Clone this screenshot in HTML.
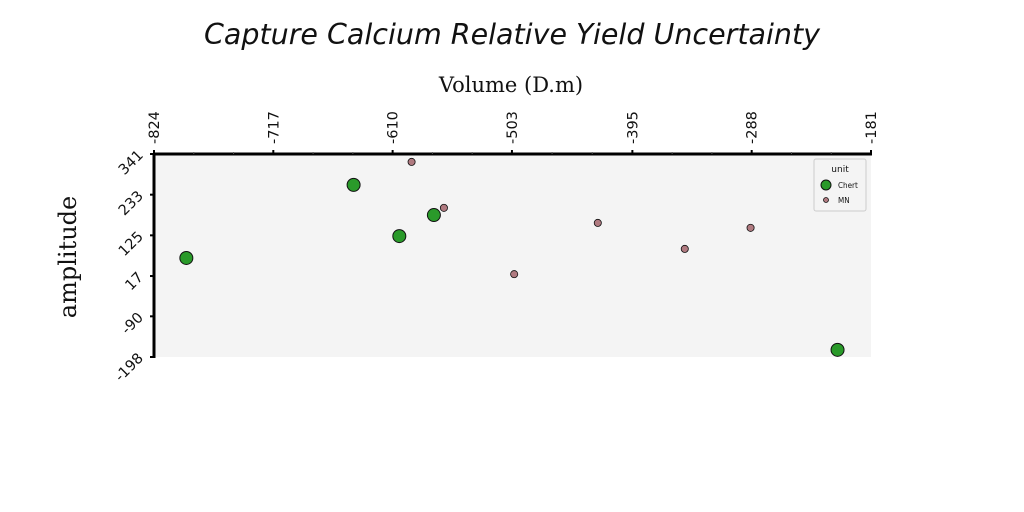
<!DOCTYPE html>
<html><head><meta charset="utf-8"><style>
body{margin:0;background:#fff;width:1024px;height:512px;overflow:hidden}
svg{display:block}
</style></head><body>
<svg id="chart" width="1024" height="512" xmlns="http://www.w3.org/2000/svg">
<text x="512" y="44" text-anchor="middle" font-family="'DejaVu Sans',sans-serif" font-style="italic" font-size="28.5" fill="#111">Capture Calcium Relative Yield Uncertainty</text>
<text x="511" y="92" text-anchor="middle" font-family="'DejaVu Serif',serif" font-size="21" fill="#111">Volume (D.m)</text>
<text transform="translate(76,257) rotate(-90)" text-anchor="middle" font-family="'DejaVu Serif',serif" font-size="24" fill="#111">amplitude</text>
<rect x="154" y="154" width="717" height="203" fill="#f4f4f4"/>
<g id="axes"></g>
<g id="marks"></g>
<g>
<rect x="814" y="159" width="52" height="52" rx="2" fill="#f4f4f4" stroke="#ccc" stroke-width="1"/>
<text x="840" y="172" text-anchor="middle" font-family="'DejaVu Sans',sans-serif" font-size="9" fill="#111">unit</text>
<circle cx="826" cy="185" r="5" fill="#2a9a2a" stroke="#111" stroke-width="1"/>
<text x="838" y="188" font-family="'DejaVu Sans Condensed','DejaVu Sans',sans-serif" font-size="8" fill="#111">Chert</text>
<circle cx="826" cy="200" r="2.5" fill="#b07a80" stroke="#111" stroke-width="0.8"/>
<text x="838" y="203" font-family="'DejaVu Sans Condensed','DejaVu Sans',sans-serif" font-size="8" fill="#111">MN</text>
</g>
</svg>
<script>
const xTicks = [-824, -717, -610, -503, -395, -288, -181];
const yTicks = [341, 233, 125, 17, -90, -198];
const chertX = [-795, -645, -604, -573, -211];
const chertY = [65, 259, 123, 179, -179];
const mnX = [-593, -564, -501, -426, -348, -289];
const mnY = [320, 198, 22, 158, 89, 145];

const NS = 'http://www.w3.org/2000/svg';
const X0 = 154, X1 = 871, Y0 = 154, Y1 = 357;
const xMin = -824, xMax = -181, yMin = -198, yMax = 341;
const sx = v => X0 + (v - xMin) / (xMax - xMin) * (X1 - X0);
const sy = v => Y1 - (v - yMin) / (yMax - yMin) * (Y1 - Y0);
function mk(tag, attrs, parent) {
  const e = document.createElementNS(NS, tag);
  for (const k in attrs) e.setAttribute(k, attrs[k]);
  parent.appendChild(e);
  return e;
}
const axes = document.getElementById('axes');
const marks = document.getElementById('marks');
const xl = mk('line', {x1: X0, y1: Y0, x2: X1 + 1, y2: Y0, stroke: '#000', 'stroke-width': 3}, axes);


const yl = mk('line', {x1: X0, y1: Y0, x2: X0, y2: Y1 + 1, stroke: '#000', 'stroke-width': 3}, axes);


xTicks.forEach((t, i) => {
  const x = sx(t);
  mk('line', {x1: x, y1: Y0, x2: x, y2: Y0 - 4, stroke: '#000', 'stroke-width': 2}, axes);
  if (i < xTicks.length - 1) {
    for (let k = 1; k < 3; k++) {
      const xm = x + (sx(xTicks[i + 1]) - x) * k / 3;
      mk('line', {x1: xm, y1: Y0, x2: xm, y2: Y0 - 2, stroke: '#555', 'stroke-width': 1}, axes);
    }
  }
  const tx = mk('text', {transform: `translate(${x + 5},${Y0 - 10}) rotate(-90)`, 'font-family': "'DejaVu Sans',sans-serif", 'font-size': 14.5, fill: '#111'}, axes);
  tx.textContent = t;
  
  
});
yTicks.forEach((t, i) => {
  const y = sy(t);
  mk('line', {x1: X0, y1: y, x2: X0 - 4, y2: y, stroke: '#000', 'stroke-width': 2}, axes);
  const tx = mk('text', {transform: `translate(${X0 - 10},${y + 2}) rotate(-45)`, 'text-anchor': 'end', 'font-family': "'DejaVu Sans',sans-serif", 'font-size': 14.5, fill: '#111'}, axes);
  tx.textContent = t;
  
  
});
chertX.forEach((v, i) => {
  const c = mk('circle', {cx: sx(v), cy: sy(chertY[i]), r: 6.5, fill: '#2a9a2a', stroke: '#111', 'stroke-width': 1}, marks);
  
  
});
mnX.forEach((v, i) => {
  const c = mk('circle', {cx: sx(v), cy: sy(mnY[i]), r: 3.6, fill: '#b07a80', stroke: '#111', 'stroke-width': 0.8}, marks);
  
  
});
</script>
</body></html>
